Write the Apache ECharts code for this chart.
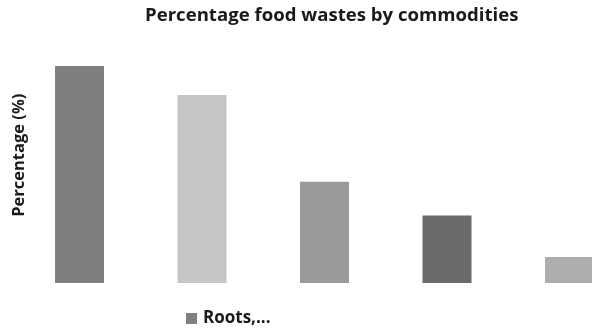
<!DOCTYPE html>
<html>
<head>
<meta charset="utf-8">
<script src="https://cdn.jsdelivr.net/npm/echarts@6/dist/echarts.min.js"></script>
<style>html,body{margin:0;padding:0;background:#fff;}#c{width:592px;height:329px;}</style>
</head>
<body>
<div id="c"></div>
<script>
var categories = ['Roots,...', 'Fruits,...', 'Fish,...', 'Cereals', 'Meat,...'];
var values = [45, 39, 21, 14, 5.4];
var barColors = ['#7f7f7f', '#c4c5c4', '#999a99', '#6b6b69', '#acadac'];
var seriesName = 'Roots,...';
var titleText = 'Percentage food wastes by commodities';
var yName = 'Percentage (%)';

var chart = echarts.init(document.getElementById('c'));
chart.setOption({
  animation: false,
  backgroundColor: '#ffffff',
  title: {
    text: titleText,
    left: 145,
    top: 6,
    padding: 0,
    textStyle: { fontFamily: 'Open Sans', fontWeight: 'bold', fontSize: 18.6, color: '#1a1a1a' }
  },
  legend: {
    data: [seriesName],
    left: 181,
    top: 305,
    icon: 'rect',
    itemWidth: 11,
    itemHeight: 11,
    textStyle: { fontFamily: 'Open Sans', fontWeight: 'bold', fontSize: 17, color: '#1a1a1a', padding: [0, 0, 0, 1] }
  },
  grid: { left: 18.25, width: 612.5, top: 27.5, bottom: 46, outerBoundsMode: 'none' },
  xAxis: {
    type: 'category',
    data: categories,
    axisLine: { show: false },
    axisTick: { show: false },
    axisLabel: { show: false }
  },
  yAxis: {
    type: 'value',
    min: 0,
    max: 53,
    name: yName,
    nameLocation: 'middle',
    nameGap: -10,
    nameTextStyle: { fontFamily: 'Open Sans', fontWeight: 'bold', fontSize: 16.5, color: '#1a1a1a' },
    axisLine: { show: false },
    axisTick: { show: false },
    axisLabel: { show: false },
    splitLine: { show: false }
  },
  series: [{
    name: seriesName,
    type: 'bar',
    barWidth: 49,
    itemStyle: { color: barColors[0] },
    data: values.map(function (v, i) { return { value: v, itemStyle: { color: barColors[i] } }; })
  }]
});
</script>
</body>
</html>
